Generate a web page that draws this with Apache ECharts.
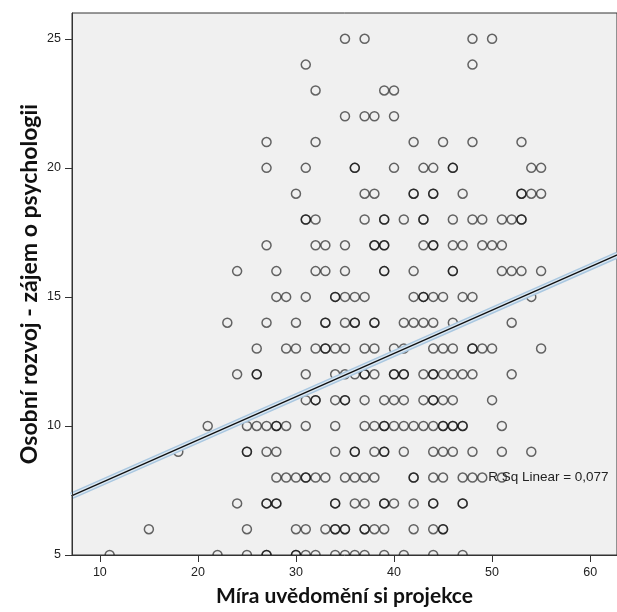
<!DOCTYPE html>
<html>
<head>
<meta charset="utf-8">
<script src="https://cdn.jsdelivr.net/npm/echarts@6/dist/echarts.min.js"></script>
<style>
html,body{margin:0;padding:0;background:#fff;}
#main{width:617px;height:612px;}
</style>
</head>
<body>
<div id="main"></div>
<script>
// x values (Míra uvědomění si projekce) for each y value (Osobní rozvoj - zájem o psychologii)
const row25 = [35, 37, 48, 50];
const row24 = [31, 48];
const row23 = [32, 39, 40];
const row22 = [35, 37, 38, 40];
const row21 = [27, 32, 42, 45, 48, 53];
const row20 = [27, 31, 36, 36, 40, 43, 44, 46, 46, 54, 55];
const row19 = [30, 37, 38, 42, 42, 44, 44, 47, 53, 53, 54, 55];
const row18 = [31, 31, 32, 37, 39, 39, 41, 43, 43, 46, 48, 49, 51, 52, 53, 53];
const row17 = [27, 32, 33, 35, 38, 38, 39, 39, 43, 44, 44, 46, 47, 49, 50, 51];
const row16 = [24, 28, 32, 33, 35, 39, 39, 42, 46, 46, 51, 52, 53, 55];
const row15 = [28, 29, 31, 34, 34, 35, 36, 37, 42, 43, 43, 44, 45, 47, 48, 54];
const row14 = [23, 27, 30, 33, 33, 35, 36, 36, 38, 38, 41, 42, 43, 44, 46, 52];
const row13 = [26, 29, 30, 32, 33, 33, 34, 35, 37, 38, 40, 41, 44, 45, 46, 48, 48, 49, 50, 55];
const row12 = [24, 26, 26, 31, 34, 35, 36, 37, 37, 38, 40, 40, 41, 41, 43, 44, 44, 45, 46, 47, 48, 52];
const row11 = [31, 32, 32, 34, 35, 35, 37, 39, 40, 41, 43, 44, 44, 45, 46, 50];
const row10 = [21, 25, 26, 27, 28, 28, 29, 31, 34, 37, 38, 39, 39, 40, 41, 42, 43, 44, 45, 45, 46, 46, 47, 47, 51];
const row9  = [18, 25, 25, 27, 28, 34, 36, 36, 38, 39, 39, 41, 44, 45, 46, 48, 51, 54];
const row8  = [28, 29, 30, 31, 31, 32, 33, 35, 36, 37, 38, 42, 42, 44, 45, 47, 48, 49, 51];
const row7  = [24, 27, 27, 28, 28, 34, 34, 36, 37, 39, 39, 40, 42, 44, 44, 47, 47];
const row6  = [15, 25, 30, 31, 33, 34, 34, 35, 35, 37, 37, 38, 39, 42, 44, 45, 45];
const row5  = [11, 22, 25, 27, 27, 30, 30, 31, 32, 34, 35, 36, 37, 39, 41, 44, 47];

const rows = {25: row25, 24: row24, 23: row23, 22: row22, 21: row21, 20: row20, 19: row19,
  18: row18, 17: row17, 16: row16, 15: row15, 14: row14, 13: row13, 12: row12, 11: row11,
  10: row10, 9: row9, 8: row8, 7: row7, 6: row6, 5: row5};

// fitted linear regression line end points
const fitX = [7.1, 62.8];
const fitY = [7.29, 16.63];
const fitLabel = 'R Sq Linear = 0,077';
const fitLabelPos = [49.6, 8.0];

const xTicks = [10, 20, 30, 40, 50, 60];
const yTicks = [5, 10, 15, 20, 25];

const points = [];
Object.keys(rows).forEach(function (y) {
  rows[y].forEach(function (x) { points.push([x, Number(y)]); });
});
const fitData = [[fitX[0], fitY[0]], [fitX[1], fitY[1]]];

const chart = echarts.init(document.getElementById('main'), null, {renderer: 'canvas'});
const labelFont = {fontFamily: 'Liberation Sans, Arial, sans-serif', fontSize: 12.5, color: '#222'};

chart.setOption({
  animation: false,
  backgroundColor: '#ffffff',
  grid: {
    left: 72, top: 13, right: -3, bottom: 57,
    show: true, backgroundColor: '#f0f0f0', borderColor: '#333', borderWidth: 1
  },
  xAxis: {
    type: 'value', min: 7.16, max: 62.74, z: 10,
    name: 'Míra uvědomění si projekce', nameLocation: 'middle', nameGap: 31,
    nameMoveOverlap: false,
    nameTextStyle: {fontFamily: 'Lato, sans-serif', fontWeight: 'bold', fontSize: 21, color: '#111'},
    axisLine: {show: true, lineStyle: {color: '#333', width: 1}},
    axisTick: {show: true, length: 7, lineStyle: {color: '#333'}, customValues: xTicks},
    axisLabel: Object.assign({margin: 11, customValues: xTicks}, labelFont),
    splitLine: {show: false}
  },
  yAxis: {
    type: 'value', min: 5, max: 26, z: 10,
    name: 'Osobní rozvoj - zájem o psychologii', nameLocation: 'middle', nameGap: 31,
    nameMoveOverlap: false,
    nameRotate: 90,
    nameTextStyle: {fontFamily: 'Lato, sans-serif', fontWeight: 'bold', fontSize: 23, color: '#111'},
    axisLine: {show: true, lineStyle: {color: '#333', width: 1}},
    axisTick: {show: true, length: 7, lineStyle: {color: '#333'}, customValues: yTicks},
    axisLabel: Object.assign({margin: 11, customValues: yTicks}, labelFont),
    splitLine: {show: false}
  },
  series: [
    {
      type: 'scatter', data: points, symbol: 'circle', symbolSize: 9, z: 2,
      itemStyle: {color: 'rgba(0,0,0,0)', borderColor: 'rgba(0,0,0,0.74)', borderWidth: 1.5},
      emphasis: {disabled: true}
    },
    {
      type: 'line', data: fitData, symbol: 'none', z: 3,
      lineStyle: {color: '#a9c7e0', width: 7}
    },
    {
      type: 'line', data: fitData, symbol: 'none', z: 4,
      lineStyle: {color: '#dbe8f3', width: 4}
    },
    {
      type: 'line', data: fitData, symbol: 'none', z: 5,
      lineStyle: {color: '#111', width: 1.4}
    }
  ]
});

const lp = chart.convertToPixel({gridIndex: 0}, fitLabelPos);
const gb = chart.convertToPixel({gridIndex: 0}, [7.16, 5]);
chart.setOption({
  graphic: [
    {
      type: 'rect', z: 8, silent: true,
      shape: {x: gb[0] + 0.5, y: gb[1] + 0.5, width: 617 - gb[0], height: 14},
      style: {fill: '#ffffff'}
    },
    {
      type: 'text', z: 9, silent: true, x: lp[0], y: lp[1],
      style: {text: fitLabel, fill: '#222', font: '13.5px "Liberation Sans", Arial, sans-serif',
              textVerticalAlign: 'middle', textAlign: 'left'}
    }
  ]
});
</script>
</body>
</html>
